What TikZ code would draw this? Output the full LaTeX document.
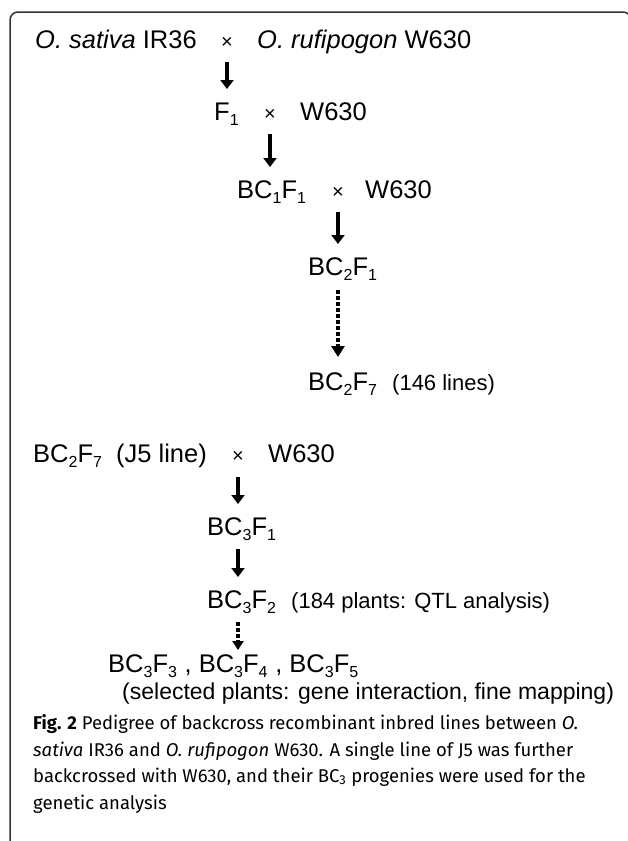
\documentclass[tikz,border=0pt]{standalone}
\usepackage{fontspec}
\setmainfont{Liberation Sans}
\newfontfamily\capfont{Fira Sans}
\usetikzlibrary{arrows.meta,calc}
\newcommand{\sbx}[1]{\raisebox{-0.22em}{\fontsize{16}{16}\selectfont #1}}
\begin{document}
\begin{tikzpicture}[x=1pt,y=-1pt,
  txt/.style={inner sep=0pt, anchor=base west, font=\fontsize{25.5}{30}\selectfont},
  sm/.style={inner sep=0pt, anchor=base west, font=\fontsize{22}{26}\selectfont},
  crs/.style={inner sep=0pt, anchor=base, font=\fontsize{20}{24}\selectfont},
  captxt/.style={inner sep=0pt, anchor=base west, font=\capfont\fontsize{18.5}{21}\selectfont},
  arr/.style={line width=4.2pt, -{Triangle[width=13pt,length=9pt]}},
  darr/.style={line width=4.2pt, dash pattern=on 3.5pt off 2.5pt, -{Triangle[width=13pt,length=11pt]}},
  darrs/.style={line width=4.2pt, dash pattern=on 3.5pt off 2.5pt, -{Triangle[width=11pt,length=9pt]}},
  frame/.style={draw=black!80, line width=1.5pt, rounded corners=8pt}]
\useasboundingbox (0,0) rectangle (627,841);
\draw[frame] (10,850) -- (10,12) -- (631,12) -- (631,850);
% first pedigree
\node[txt] (r1a) at (35,48) {\textit{O. sativa} IR36};
\node[crs] (r1x) at (227,48) {×};
\node[txt] (r1b) at (257,48) {\textit{O. rufipogon} W630};
\node[txt] (r2a) at (214,120) {F\sbx{1}};
\node[crs] (r2x) at (270,120) {×};
\node[txt] (r2b) at (300,120) {W630};
\node[txt] (r3a) at (237,198) {BC\sbx{1}F\sbx{1}};
\node[crs] (r3x) at (338,198) {×};
\node[txt] (r3b) at (365,198) {W630};
\node[txt] (r4) at (308,275) {BC\sbx{2}F\sbx{1}};
\node[txt] (r5a) at (308,390) {BC\sbx{2}F\sbx{7}};
\node[sm] (r5b) at (392,390) {(146 lines)};
% second pedigree
\node[txt] (r6a) at (33,462) {BC\sbx{2}F\sbx{7}\ \ (J5 line)};
\node[crs] (r6x) at (238,462) {×};
\node[txt] (r6b) at (268,462) {W630};
\node[txt] (r7) at (207,535) {BC\sbx{3}F\sbx{1}};
\node[txt] (r8a) at (207,608) {BC\sbx{3}F\sbx{2}};
\node[sm] (r8b) at (291,608) {(184 plants: QTL analysis)};
\node[txt] (r9) at (108,672) {BC\sbx{3}F\sbx{3}\hspace{0.3em}, BC\sbx{3}F\sbx{4}\hspace{0.3em}, BC\sbx{3}F\sbx{5}};
\node[sm, font=\fontsize{23}{26}\selectfont] (r10) at (122,699) {(selected plants: gene interaction, fine mapping)};
% arrows
\draw[arr] ($(r1x.base)+(0,-14pt)$) -- ($(r1x.base |- r2a.base)+(0,31pt)$);
\draw[arr] ($(r2x.base)+(0,-14pt)$) -- ($(r2x.base |- r3a.base)+(0,31pt)$);
\draw[arr] ($(r3x.base)+(0,-14pt)$) -- ($(r3x.base |- r4.base)+(0,31pt)$);
\draw[darr] ($(r4.base -| r3x)+(0,-15pt)$) -- ($(r5a.base -| r3x)+(0,33pt)$);
\draw[arr] ($(r6x.base)+(0,-15pt)$) -- ($(r7.base -| r6x)+(0,31pt)$);
\draw[arr] ($(r7.base -| r6x)+(0,-14pt)$) -- ($(r8a.base -| r6x)+(0,31pt)$);
\draw[darrs] ($(r8a.base -| r6x)+(0,-14pt)$) -- ($(r9.base -| r6x)+(0,22pt)$);
% caption
\node[captxt] (c1) at (33,729) {\textbf{Fig. 2} Pedigree of backcross recombinant inbred lines between \textit{O.}};
\node[captxt] (c2) at (33,756) {\textit{sativa} IR36 and \textit{O. rufipogon} W630. A single line of J5 was further};
\node[captxt] (c3) at (33,782) {backcrossed with W630, and their BC\textsubscript{3} progenies were used for the};
\node[captxt] (c4) at (33,809) {genetic analysis};
\end{tikzpicture}
\end{document}
